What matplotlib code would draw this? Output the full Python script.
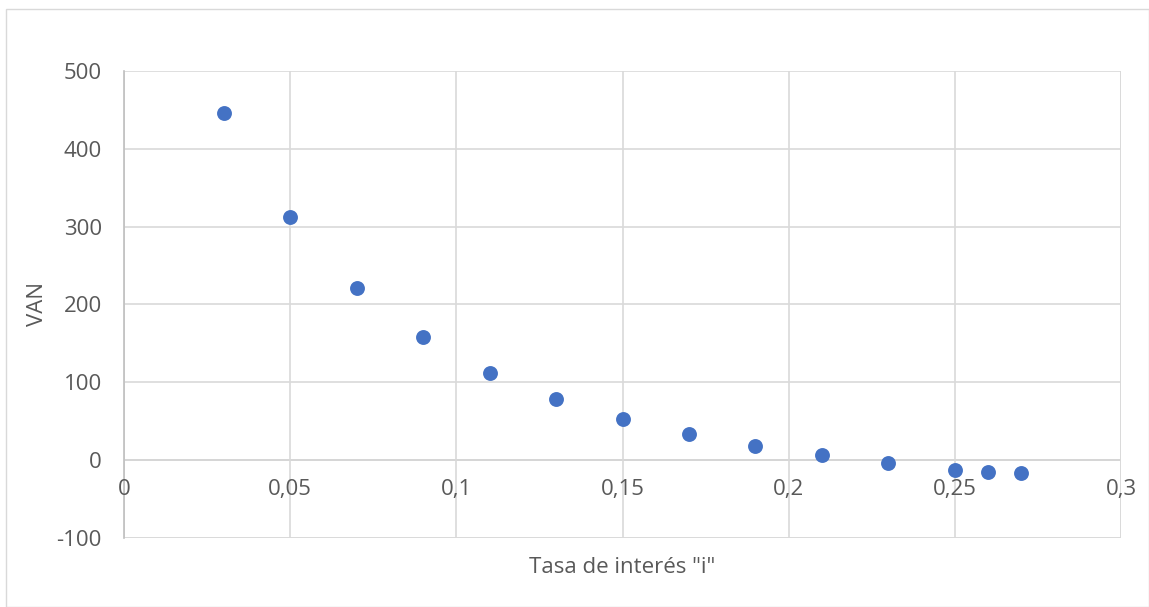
import matplotlib
matplotlib.use("Agg")
import matplotlib.pyplot as plt
import matplotlib.transforms as mtransforms
from matplotlib.patches import Rectangle

tasa = [0.03, 0.05, 0.07, 0.09, 0.11, 0.13, 0.15, 0.17, 0.19, 0.21, 0.23, 0.25, 0.26, 0.27]
van = [446, 313, 221, 158, 112, 78, 53, 33, 18, 6.5, -4, -12, -15, -17]
x_ticks = [0, 0.05, 0.1, 0.15, 0.2, 0.25, 0.3]
y_ticks = [-100, 0, 100, 200, 300, 400, 500]

plt.rcParams['font.family'] = ['Open Sans', 'DejaVu Sans']
plt.rcParams['axes.unicode_minus'] = False
txt = '#595959'
grid = '#D9D9D9'
fs = 16

fig = plt.figure(figsize=(11.49, 6.07), dpi=100)
fig.add_artist(Rectangle((6/1149, 0), 1 - 6/1149, 1 - 9/607, transform=fig.transFigure,
                         fill=False, edgecolor='#D9D9D9', linewidth=1))
ax = fig.add_axes([124/1149, 1 - 538/607, (1121 - 124)/1149, (538 - 71)/607])

ax.scatter(tasa, van, s=115, color='#4472C4', zorder=3, linewidths=0)

ax.set_xlim(0, 0.3)
ax.set_ylim(-100, 500)
ax.set_xticks(x_ticks)
ax.set_yticks(y_ticks)
ax.grid(True, color=grid, linewidth=1.2, zorder=0)
for s in ['top', 'right', 'bottom']:
    ax.spines[s].set_visible(False)
ax.spines['left'].set_color('#BFBFBF')
ax.spines['left'].set_linewidth(1.2)
ax.axhline(0, color='#BFBFBF', linewidth=1.2, zorder=1)
ax.axhline(-100, color=grid, linewidth=1.2, zorder=0)
ax.axvline(0.3, color=grid, linewidth=1.2, zorder=0)

fmt = lambda v: ('%g' % v).replace('.', ',')
ax.tick_params(axis='both', length=0, labelsize=fs, colors=txt)
ax.tick_params(axis='y', pad=16)
ax.set_xticklabels([])
off = mtransforms.ScaledTranslation(0, -19/100, fig.dpi_scale_trans)
for v in x_ticks:
    ax.text(v, 0, fmt(v), transform=ax.transData + off,
            ha='center', va='top', fontsize=fs, color=txt)

ax.set_xlabel('Tasa de interés "i"', fontsize=fs, color=txt, labelpad=10)
ax.set_ylabel('VAN', fontsize=fs, color=txt, labelpad=6)

fig.savefig('out.png', dpi=100)
